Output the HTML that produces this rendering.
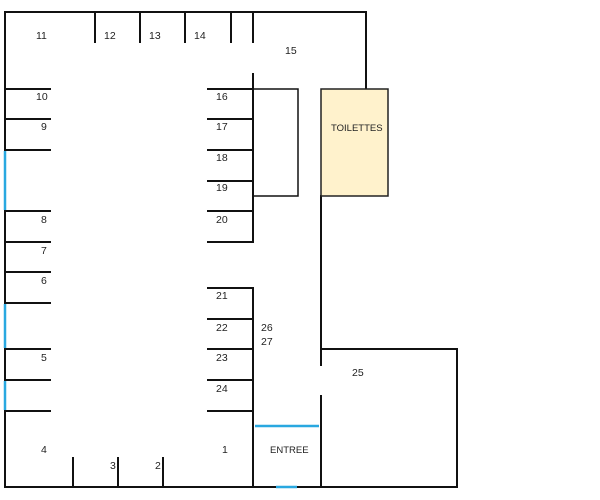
<!DOCTYPE html>
<html><head><style>
html,body{margin:0;padding:0;background:#fff;}
svg{display:block;}
text{font-family:"Liberation Sans",sans-serif;font-size:10.5px;fill:#222;}
</style></head><body>
<svg width="600" height="500" viewBox="0 0 600 500">
<g stroke="#111" stroke-width="2" fill="none" stroke-linecap="square">
<!-- outer -->
<line x1="5" y1="12" x2="366" y2="12"/>
<line x1="5" y1="12" x2="5" y2="487"/>
<line x1="5" y1="487" x2="457" y2="487"/>
<line x1="366" y1="12" x2="366" y2="88"/>
<!-- top dividers -->
<line x1="95" y1="12" x2="95" y2="42"/>
<line x1="140" y1="12" x2="140" y2="42"/>
<line x1="185" y1="12" x2="185" y2="42"/>
<line x1="231" y1="12" x2="231" y2="42"/>
<line x1="253" y1="12" x2="253" y2="42"/>
<line x1="253" y1="74" x2="253" y2="242"/>
<!-- left shelves -->
<line x1="5" y1="89" x2="50" y2="89"/>
<line x1="5" y1="119" x2="50" y2="119"/>
<line x1="5" y1="150" x2="50" y2="150"/>
<line x1="5" y1="211" x2="50" y2="211"/>
<line x1="5" y1="242" x2="50" y2="242"/>
<line x1="5" y1="272" x2="50" y2="272"/>
<line x1="5" y1="303" x2="50" y2="303"/>
<line x1="5" y1="349" x2="50" y2="349"/>
<line x1="5" y1="380" x2="50" y2="380"/>
<line x1="5" y1="411" x2="50" y2="411"/>
<!-- right shelves upper -->
<line x1="208" y1="89" x2="253" y2="89"/>
<line x1="208" y1="119" x2="253" y2="119"/>
<line x1="208" y1="150" x2="253" y2="150"/>
<line x1="208" y1="181" x2="253" y2="181"/>
<line x1="208" y1="211" x2="253" y2="211"/>
<line x1="208" y1="242" x2="253" y2="242"/>
<rect x="253" y="89" width="45" height="107" stroke-width="1.5"/>
<!-- lower right shelves -->
<line x1="208" y1="288" x2="253" y2="288"/>
<line x1="208" y1="319" x2="253" y2="319"/>
<line x1="208" y1="349" x2="253" y2="349"/>
<line x1="208" y1="380" x2="253" y2="380"/>
<line x1="208" y1="411" x2="253" y2="411"/>
<line x1="253" y1="288" x2="253" y2="487"/>
<!-- middle wall -->
<line x1="321" y1="196" x2="321" y2="365"/>
<line x1="321" y1="396" x2="321" y2="487"/>
<!-- room 25 -->
<line x1="321" y1="349" x2="457" y2="349"/>
<line x1="457" y1="349" x2="457" y2="487"/>
<!-- bottom dividers -->
<line x1="73" y1="458" x2="73" y2="487"/>
<line x1="118" y1="458" x2="118" y2="487"/>
<line x1="163" y1="458" x2="163" y2="487"/>
</g>
<rect x="321" y="89" width="67" height="107" fill="#fff2cc" stroke="#222" stroke-width="1.5"/>
<g stroke="#29a8e0" stroke-width="2.5">
<line x1="5" y1="151" x2="5" y2="210"/>
<line x1="5" y1="304" x2="5" y2="348"/>
<line x1="5" y1="381" x2="5" y2="410"/>
<line x1="255" y1="426" x2="319" y2="426"/>
<line x1="276" y1="487" x2="297" y2="487"/>
</g>
<g>
<text x="36" y="39">11</text>
<text x="104" y="39">12</text>
<text x="149" y="39">13</text>
<text x="194" y="39">14</text>
<text x="285" y="54">15</text>
<text x="36" y="100">10</text>
<text x="41" y="130">9</text>
<text x="41" y="223">8</text>
<text x="41" y="254">7</text>
<text x="41" y="284">6</text>
<text x="41" y="361">5</text>
<text x="41" y="453">4</text>
<text x="110" y="469">3</text>
<text x="155" y="469">2</text>
<text x="222" y="453">1</text>
<text x="216" y="100">16</text>
<text x="216" y="130">17</text>
<text x="216" y="161">18</text>
<text x="216" y="191">19</text>
<text x="216" y="223">20</text>
<text x="216" y="299">21</text>
<text x="216" y="331">22</text>
<text x="216" y="361">23</text>
<text x="216" y="392">24</text>
<text x="261" y="331">26</text>
<text x="261" y="345">27</text>
<text x="352" y="376">25</text>
<text x="331" y="131" style="font-size:9.5px">TOILETTES</text>
<text x="270" y="453" style="font-size:9.5px">ENTREE</text>
</g>
</svg>
</body></html>
